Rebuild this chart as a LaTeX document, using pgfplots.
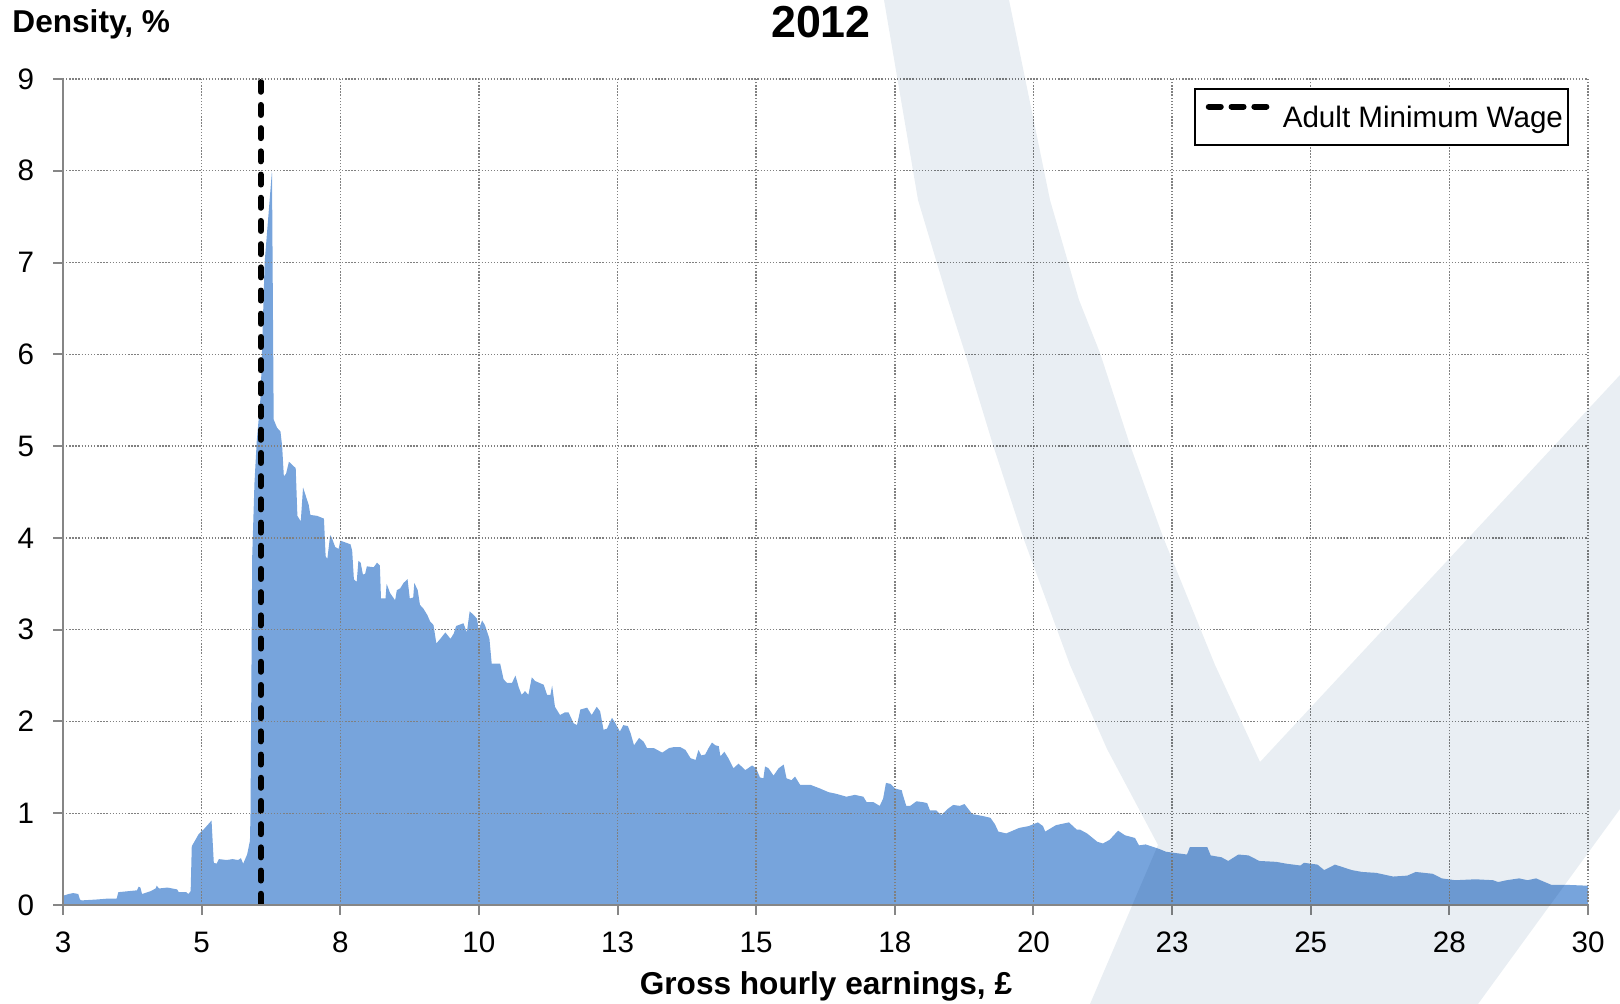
\documentclass[border=0pt]{standalone}
\usepackage{fontspec}
\setmainfont{Liberation Sans}
\usepackage{pgfplots}
\pgfplotsset{compat=1.18}

\definecolor{areablue}{RGB}{119,164,220}
\definecolor{wmark}{RGB}{233,238,243}
\definecolor{gridgray}{RGB}{128,128,128}
\definecolor{axisgray}{RGB}{134,134,134}

\newcommand{\tickfont}{\fontsize{14.8}{17}\selectfont}
\newcommand{\labfont}{\bfseries\fontsize{15.8}{19}\selectfont}

\begin{document}
\begin{tikzpicture}
\useasboundingbox (0pt,0pt) rectangle (810pt,502pt);

\begin{axis}[
  at={(31.5pt,49.5pt)}, anchor=south west,
  scale only axis, width=762.5pt, height=413pt,
  xmin=3, xmax=30, ymin=0, ymax=9,
  xtick={3,5.454545,7.909091,10.363636,12.818182,15.272727,17.727273,20.181818,22.636364,25.090909,27.545455,30},
  xticklabels={3,5,8,10,13,15,18,20,23,25,28,30},
  ytick={0,1,...,9},
  axis x line*=bottom, axis y line*=left,
  axis line style={axisgray, line width=1pt},
  tick style={axisgray, line width=1pt},
  tick align=outside, major tick length=5pt,
  grid=major,
  major grid style={gridgray, line width=0.7pt, dash pattern=on 0.7pt off 0.85pt},
  axis on top,
  /pgf/number format/assume math mode=true,
  ticklabel style={font=\tickfont, inner sep=0pt},
  xticklabel style={anchor=north, yshift=-8.4pt},
  yticklabel style={anchor=east, xshift=-9.3pt},
  title={2012},
  title style={at={(0.497,1.0362)}, anchor=base, inner sep=0pt, font=\bfseries\fontsize{22.4}{26}\selectfont},
  ylabel={Density, \%},
  ylabel style={rotate=-90, at={(-0.0334,1.056)}, anchor=base west, inner sep=0pt, font=\labfont},
  xlabel={Gross hourly earnings, £},
  xlabel style={at={(0.5003,-0.1084)}, anchor=base, inner sep=0pt, font=\labfont},
  legend style={at={(0.9875,0.9891)}, anchor=north east, draw=black, line width=1pt,
    fill=white, inner xsep=2.5pt, inner ysep=0pt, column sep=0pt,
    font=\tickfont, nodes={inner sep=0pt, text height=19pt, text depth=9pt}},
  legend cell align=left,
  legend image code/.code={
    \path[draw=none] (0pt,0pt) -- (41.5pt,0pt);
    \draw[#1, dash pattern=on 6pt off 5.4pt] (4.5pt,5.2pt) -- (33.5pt,5.2pt);
  },
]

\addplot[fill=areablue, draw=none, forget plot] coordinates {
(3.00,0.10) (3.10,0.12) (3.18,0.13) (3.27,0.12) (3.30,0.06) (3.33,0.05)
(3.60,0.06) (3.80,0.07) (3.95,0.07) (3.98,0.14) (4.15,0.15) (4.31,0.16)
(4.34,0.20) (4.37,0.19) (4.40,0.12) (4.55,0.15) (4.64,0.18) (4.66,0.21)
(4.70,0.18) (4.85,0.19) (5.02,0.17) (5.05,0.14) (5.18,0.14) (5.22,0.12)
(5.26,0.15) (5.28,0.64) (5.40,0.77) (5.50,0.83) (5.63,0.92) (5.67,0.46)
(5.72,0.45) (5.76,0.50) (5.90,0.49) (6.00,0.50) (6.10,0.49) (6.15,0.51)
(6.19,0.45) (6.26,0.55) (6.31,0.70) (6.32,1.00) (6.35,3.80) (6.39,4.60)
(6.43,5.05) (6.50,5.55) (6.57,7.00) (6.70,8.00) (6.73,5.29) (6.79,5.20)
(6.85,5.16) (6.88,5.00) (6.91,4.67) (6.95,4.70) (7.00,4.83) (7.12,4.76)
(7.15,4.24) (7.21,4.18) (7.25,4.55) (7.35,4.36) (7.38,4.25) (7.50,4.24)
(7.62,4.21) (7.65,3.80) (7.68,3.77) (7.73,4.03) (7.76,4.00) (7.82,3.90)
(7.88,3.88) (7.91,3.97) (8.09,3.93) (8.12,3.86) (8.15,3.55) (8.20,3.52)
(8.23,3.75) (8.27,3.73) (8.31,3.60) (8.35,3.61) (8.38,3.69) (8.50,3.68)
(8.56,3.73) (8.61,3.70) (8.63,3.34) (8.71,3.34) (8.73,3.50) (8.79,3.40)
(8.88,3.32) (8.91,3.43) (8.97,3.45) (9.03,3.51) (9.10,3.55) (9.14,3.34)
(9.20,3.35) (9.22,3.51) (9.28,3.43) (9.32,3.27) (9.38,3.23) (9.45,3.16)
(9.50,3.09) (9.56,3.05) (9.61,2.85) (9.68,2.90) (9.77,2.97) (9.86,2.90)
(9.92,2.96) (9.96,3.04) (10.09,3.07) (10.15,2.97) (10.20,3.20) (10.27,3.16)
(10.33,3.12) (10.36,3.00) (10.42,3.10) (10.47,3.05) (10.55,2.90) (10.59,2.63)
(10.74,2.63) (10.80,2.46) (10.86,2.42) (10.95,2.42) (11.01,2.50) (11.07,2.37)
(11.12,2.29) (11.18,2.33) (11.24,2.29) (11.30,2.48) (11.36,2.44) (11.51,2.40)
(11.57,2.29) (11.63,2.29) (11.66,2.39) (11.71,2.16) (11.80,2.07) (11.89,2.10)
(11.95,2.10) (12.04,1.98) (12.10,1.96) (12.16,2.13) (12.28,2.15) (12.36,2.07)
(12.45,2.16) (12.51,2.11) (12.57,1.91) (12.63,1.92) (12.72,2.04) (12.78,1.98)
(12.86,1.89) (12.92,1.96) (13.00,1.95) (13.05,1.87) (13.11,1.74) (13.20,1.82)
(13.28,1.78) (13.34,1.71) (13.46,1.71) (13.61,1.66) (13.73,1.71) (13.81,1.72)
(13.93,1.72) (14.02,1.69) (14.11,1.60) (14.20,1.58) (14.25,1.69) (14.30,1.63)
(14.37,1.64) (14.43,1.71) (14.49,1.77) (14.55,1.74) (14.61,1.73) (14.64,1.62)
(14.71,1.67) (14.78,1.60) (14.87,1.49) (14.96,1.54) (15.08,1.47) (15.20,1.52)
(15.27,1.49) (15.34,1.39) (15.40,1.38) (15.43,1.51) (15.49,1.49) (15.58,1.41)
(15.67,1.49) (15.76,1.53) (15.81,1.38) (15.90,1.36) (15.96,1.40) (16.05,1.31)
(16.23,1.31) (16.40,1.27) (16.55,1.23) (16.70,1.21) (16.87,1.18) (17.02,1.20)
(17.17,1.18) (17.23,1.12) (17.35,1.12) (17.46,1.08) (17.52,1.16) (17.57,1.33)
(17.65,1.32) (17.73,1.27) (17.85,1.25) (17.87,1.20) (17.93,1.08) (18.00,1.08)
(18.11,1.13) (18.23,1.12) (18.30,1.11) (18.35,1.03) (18.46,1.03) (18.55,0.98)
(18.67,1.05) (18.76,1.09) (18.88,1.08) (18.96,1.10) (19.10,0.99) (19.28,0.97)
(19.42,0.95) (19.50,0.88) (19.56,0.80) (19.70,0.78) (19.93,0.84) (20.10,0.86)
(20.26,0.90) (20.35,0.86) (20.39,0.80) (20.58,0.87) (20.81,0.90) (20.95,0.82)
(21.01,0.82) (21.13,0.78) (21.31,0.69) (21.41,0.67) (21.53,0.71) (21.68,0.81)
(21.80,0.76) (21.98,0.73) (22.05,0.65) (22.17,0.66) (22.41,0.61) (22.53,0.58)
(22.65,0.57) (22.90,0.55) (22.95,0.63) (23.26,0.63) (23.32,0.54) (23.51,0.52)
(23.63,0.48) (23.81,0.55) (23.99,0.54) (24.18,0.48) (24.48,0.47) (24.66,0.45)
(24.91,0.43) (24.97,0.46) (25.21,0.44) (25.33,0.38) (25.52,0.44) (25.82,0.38)
(26.00,0.36) (26.25,0.35) (26.55,0.31) (26.80,0.32) (26.95,0.36) (27.25,0.34)
(27.41,0.29) (27.65,0.27) (28.01,0.28) (28.32,0.27) (28.41,0.25) (28.56,0.27)
(28.78,0.29) (28.93,0.27) (29.08,0.29) (29.35,0.22) (29.60,0.22) (30.00,0.21)
} \closedcycle;

\addplot[black, line width=3pt, line cap=round, dash pattern=on 5pt off 6.6pt]
  coordinates {(6.50,8.97) (6.50,0)};
\addlegendentry{Adult Minimum Wage}
\end{axis}

% faint check-mark watermark laid over the chart (multiplied, so it only tints)
\begin{scope}[blend mode=multiply]
\fill[wmark] (442pt,502pt) -- (459pt,402pt) -- (474pt,352pt) -- (482.5pt,325.5pt)
  -- (496.5pt,279.5pt) -- (511.5pt,233.5pt) -- (535pt,169.5pt) -- (553.5pt,127.5pt)
  -- (579pt,79.5pt) -- (545pt,0pt) -- (739pt,0pt) -- (810pt,97.5pt) -- (810pt,314.5pt)
  -- (630pt,121pt) -- (607.5pt,169.5pt) -- (581.5pt,233.5pt) -- (565pt,279.5pt)
  -- (550pt,325.5pt) -- (539.5pt,352pt) -- (525pt,402pt) -- (504.5pt,502pt) -- cycle;
\end{scope}
\end{tikzpicture}
\end{document}
